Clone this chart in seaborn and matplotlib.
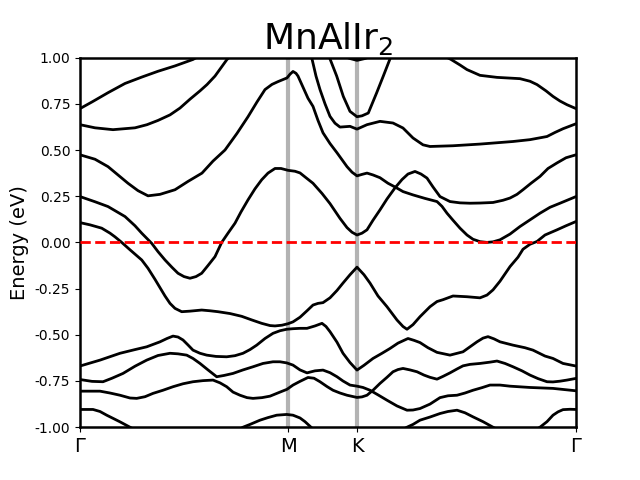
import numpy as np
import pandas as pd
import matplotlib
matplotlib.use("Agg")
import matplotlib.pyplot as plt
import seaborn as sns

# High-symmetry points along the k-path (arbitrary path units)
kpoint_labels = ["Γ", "M", "K", "Γ"]
kpoint_pos = [0, 208, 277, 496]

# Bands: k (path units) and energy (eV)
band_A_k = [0, 12, 28, 45, 62, 78, 95, 113, 150, 220, 300, 350, 360, 371, 380, 387, 400, 417, 440, 450, 457, 466, 473, 480, 487, 496]
band_A_E = [0.724, 0.76, 0.81, 0.86, 0.895, 0.926, 0.955, 0.99, 1.1, 1.2, 1.1, 1.04, 1.02, 0.99, 0.96, 0.935, 0.904, 0.893, 0.886, 0.872, 0.854, 0.82, 0.79, 0.765, 0.745, 0.724]

band_B_k = [0, 15, 33, 55, 67, 78, 90, 100, 110, 120, 127, 135, 141, 147, 170, 210, 225, 232, 236, 240, 245, 250, 255, 260, 270, 277, 287, 300, 313, 323, 333, 343, 350, 373, 400, 433, 450, 467, 475, 483, 496]
band_B_E = [0.637, 0.62, 0.61, 0.62, 0.637, 0.66, 0.69, 0.727, 0.775, 0.82, 0.854, 0.90, 0.945, 0.99, 1.1, 1.15, 1.05, 0.993, 0.90, 0.827, 0.75, 0.682, 0.645, 0.624, 0.628, 0.613, 0.637, 0.655, 0.646, 0.619, 0.565, 0.528, 0.519, 0.523, 0.532, 0.546, 0.556, 0.573, 0.595, 0.615, 0.642]

band_P_k = [240, 250, 256.7, 263.3, 270, 277, 282, 288.3, 296.7, 303.3, 310, 320]
band_P_E = [1.2, 0.993, 0.90, 0.79, 0.709, 0.68, 0.685, 0.70, 0.81, 0.90, 0.993, 1.2]

band_T_k = [255, 265, 270, 277, 285, 290, 300]
band_T_E = [1.04, 1.005, 0.995, 0.985, 0.995, 1.005, 1.04]

band_C_k = [0, 15, 28, 38, 48, 58, 68, 80, 95, 108, 122, 133, 145, 157, 168, 177, 185, 192, 198, 207, 210, 213, 216, 218, 223, 228, 233, 238, 243, 250, 257, 267, 272, 277, 282, 287, 293, 300, 308, 315, 323, 333, 345, 357, 362, 367, 373, 380, 387, 393, 400, 407, 413, 420, 430, 440, 450, 460, 470, 480, 496]
band_C_E = [0.474, 0.45, 0.41, 0.365, 0.32, 0.28, 0.252, 0.26, 0.285, 0.33, 0.375, 0.44, 0.50, 0.59, 0.68, 0.76, 0.827, 0.855, 0.87, 0.89, 0.91, 0.925, 0.915, 0.90, 0.84, 0.78, 0.736, 0.66, 0.593, 0.535, 0.485, 0.41, 0.38, 0.36, 0.368, 0.375, 0.365, 0.35, 0.32, 0.30, 0.275, 0.257, 0.238, 0.221, 0.195, 0.158, 0.12, 0.077, 0.04, 0.017, 0.004, 0.0, 0.003, 0.014, 0.045, 0.086, 0.122, 0.158, 0.19, 0.212, 0.248]

band_D_k = [0, 15, 28, 45, 55, 61.7, 71.7, 78, 85, 92, 98, 104, 110, 116, 121.7, 128, 135, 141.7, 148, 155, 161, 168, 175, 181.7, 188, 195, 201, 208, 215, 220, 226, 233, 242, 250, 260, 267, 272, 277, 282, 287, 293, 300, 307, 315, 322, 328, 335, 341, 347, 353, 360, 370, 380, 390, 400, 413, 423, 430, 437, 443, 451, 460, 468, 477, 486, 496]
band_D_E = [0.248, 0.22, 0.194, 0.14, 0.09, 0.05, -0.005, -0.05, -0.095, -0.135, -0.167, -0.185, -0.194, -0.185, -0.167, -0.125, -0.077, 0.0, 0.05, 0.104, 0.165, 0.23, 0.29, 0.339, 0.375, 0.40, 0.40, 0.39, 0.385, 0.376, 0.35, 0.32, 0.265, 0.21, 0.13, 0.08, 0.055, 0.04, 0.05, 0.068, 0.12, 0.176, 0.235, 0.295, 0.34, 0.37, 0.384, 0.37, 0.348, 0.30, 0.248, 0.221, 0.214, 0.212, 0.213, 0.216, 0.228, 0.24, 0.26, 0.285, 0.32, 0.357, 0.40, 0.43, 0.458, 0.474]

band_E_k = [0, 10, 21.7, 30, 35, 41.7, 50, 61.7, 68, 75, 80, 85, 90, 95, 101.7, 110, 121.7, 130, 138, 150, 161.7, 172, 181.7, 190, 195, 202, 208, 213, 220, 227, 233, 238, 243, 250, 257, 263, 270, 277, 284, 290, 298, 307, 317, 323, 327, 333, 340, 350, 357, 363, 373, 387, 400, 407, 413, 420, 430, 438, 443, 450, 457, 465, 477, 486, 496]
band_E_E = [0.107, 0.095, 0.077, 0.05, 0.03, 0.0, -0.04, -0.095, -0.14, -0.2, -0.245, -0.29, -0.33, -0.357, -0.375, -0.372, -0.366, -0.37, -0.375, -0.385, -0.40, -0.42, -0.438, -0.45, -0.452, -0.448, -0.44, -0.43, -0.405, -0.37, -0.339, -0.33, -0.326, -0.30, -0.26, -0.22, -0.175, -0.134, -0.175, -0.22, -0.29, -0.348, -0.42, -0.455, -0.47, -0.445, -0.402, -0.348, -0.32, -0.31, -0.29, -0.294, -0.30, -0.285, -0.257, -0.21, -0.131, -0.08, -0.037, -0.01, 0.005, 0.04, 0.068, 0.09, 0.113]

band_N1_k = [0, 20, 40, 55, 66.7, 80, 87, 93, 98, 103, 108, 113, 120, 126.7, 136, 146.7, 155, 163, 170, 176.7, 185, 193, 200, 206.7, 213, 220, 227, 235, 242, 246, 250, 257, 263, 270, 277, 284, 293, 302, 310, 318, 328, 334, 340, 348, 357, 370, 383, 390, 397, 403, 408, 414, 420, 433, 445, 453, 465, 473, 483, 496]
band_N1_E = [-0.669, -0.637, -0.60, -0.58, -0.565, -0.538, -0.52, -0.507, -0.512, -0.528, -0.555, -0.583, -0.60, -0.61, -0.617, -0.619, -0.613, -0.60, -0.58, -0.556, -0.52, -0.492, -0.478, -0.47, -0.467, -0.465, -0.465, -0.452, -0.438, -0.455, -0.483, -0.54, -0.60, -0.65, -0.691, -0.665, -0.628, -0.60, -0.574, -0.545, -0.52, -0.53, -0.542, -0.57, -0.595, -0.61, -0.592, -0.565, -0.538, -0.518, -0.51, -0.522, -0.538, -0.556, -0.57, -0.583, -0.615, -0.628, -0.655, -0.669]

band_N2_k = [0, 12, 23, 32, 43, 55, 66.7, 78, 90, 98, 106.7, 113, 120, 128, 136.7, 144, 153, 163, 173, 183, 193, 200, 206.7, 213, 220, 227, 235, 243, 250, 257, 263, 270, 277, 283, 290, 298, 307, 317, 327, 333, 340, 350, 360, 368, 377, 385, 393, 402, 410, 420, 430, 450, 473, 496]
band_N2_E = [-0.742, -0.752, -0.754, -0.735, -0.709, -0.67, -0.637, -0.612, -0.60, -0.603, -0.61, -0.628, -0.655, -0.69, -0.727, -0.72, -0.709, -0.69, -0.673, -0.655, -0.646, -0.646, -0.652, -0.664, -0.69, -0.706, -0.695, -0.691, -0.705, -0.727, -0.75, -0.772, -0.778, -0.785, -0.80, -0.825, -0.854, -0.885, -0.908, -0.907, -0.899, -0.875, -0.84, -0.83, -0.827, -0.815, -0.80, -0.786, -0.772, -0.772, -0.778, -0.785, -0.79, -0.803]

band_N3_k = [0, 20, 30, 40, 50, 56.7, 65, 73, 83, 93, 103, 113, 123, 133, 140, 146.7, 153, 160, 167, 173, 182, 190, 200, 207, 213, 220, 228, 234, 240, 247, 253, 260, 267, 277, 282, 287, 293, 300, 307, 313, 318, 323, 330, 337, 344, 350, 357, 363, 370, 377, 383, 390, 400, 410, 417, 425, 433, 442, 450, 458, 467, 473, 480, 487, 496]
band_N3_E = [-0.805, -0.805, -0.815, -0.827, -0.842, -0.844, -0.835, -0.817, -0.80, -0.781, -0.765, -0.754, -0.748, -0.745, -0.76, -0.781, -0.81, -0.827, -0.84, -0.844, -0.84, -0.832, -0.81, -0.795, -0.772, -0.752, -0.731, -0.735, -0.754, -0.78, -0.80, -0.815, -0.827, -0.839, -0.836, -0.827, -0.80, -0.763, -0.73, -0.70, -0.688, -0.682, -0.69, -0.70, -0.718, -0.73, -0.74, -0.725, -0.706, -0.685, -0.668, -0.66, -0.655, -0.648, -0.642, -0.655, -0.673, -0.695, -0.718, -0.737, -0.754, -0.755, -0.751, -0.745, -0.736]

band_N4_k = [0, 13, 20, 26.7, 33, 40, 50, 60, 110, 150, 163, 170, 180, 188, 196.7, 206.7, 213, 220, 225, 230, 235, 280, 320, 327, 333, 340, 350, 360, 368, 377, 385, 393, 403, 413, 420, 440, 457, 460, 467, 473, 478, 483, 490, 496]
band_N4_E = [-0.904, -0.904, -0.915, -0.935, -0.952, -0.971, -1.0, -1.03, -1.12, -1.04, -1.0, -0.985, -0.962, -0.948, -0.935, -0.931, -0.935, -0.95, -0.97, -0.995, -1.02, -1.12, -1.02, -1.0, -0.985, -0.962, -0.945, -0.926, -0.915, -0.908, -0.922, -0.944, -0.97, -1.0, -1.02, -1.05, -1.01, -1.0, -0.97, -0.935, -0.917, -0.905, -0.903, -0.904]

bands = {
    "A": (band_A_k, band_A_E), "B": (band_B_k, band_B_E), "P": (band_P_k, band_P_E),
    "T": (band_T_k, band_T_E), "C": (band_C_k, band_C_E), "D": (band_D_k, band_D_E),
    "E": (band_E_k, band_E_E), "N1": (band_N1_k, band_N1_E), "N2": (band_N2_k, band_N2_E),
    "N3": (band_N3_k, band_N3_E), "N4": (band_N4_k, band_N4_E),
}
frames = []
for name, (k, e) in bands.items():
    n = min(len(k), len(e))
    frames.append(pd.DataFrame({"k": k[:n], "E": e[:n], "band": name}))
df = pd.concat(frames, ignore_index=True)

fig, ax = plt.subplots(figsize=(6.4, 4.8), dpi=100)

for xp in kpoint_pos[1:-1]:
    ax.axvline(xp, color="#b3b3b3", lw=3, zorder=1)

sns.lineplot(data=df, x="k", y="E", units="band", estimator=None, sort=False,
             color="black", lw=2, ax=ax, zorder=2, legend=False,
             solid_joinstyle="round", solid_capstyle="round")

ax.axhline(0, color="red", ls="--", lw=2, zorder=3)

ax.set_xlim(kpoint_pos[0], kpoint_pos[-1])
ax.set_ylim(-1, 1)
ax.set_xticks(kpoint_pos)
ax.set_xticklabels(kpoint_labels, fontsize=14)
ax.set_yticks(np.arange(-1, 1.001, 0.25))
ax.yaxis.set_major_formatter(matplotlib.ticker.FormatStrFormatter("%.2f"))
ax.set_xlabel("")
ax.set_ylabel("Energy (eV)", fontsize=14)
ax.set_title("MnAlIr$_2$", fontsize=26)
for s in ax.spines.values():
    s.set_linewidth(1.8)

fig.savefig("out.png", dpi=100)
